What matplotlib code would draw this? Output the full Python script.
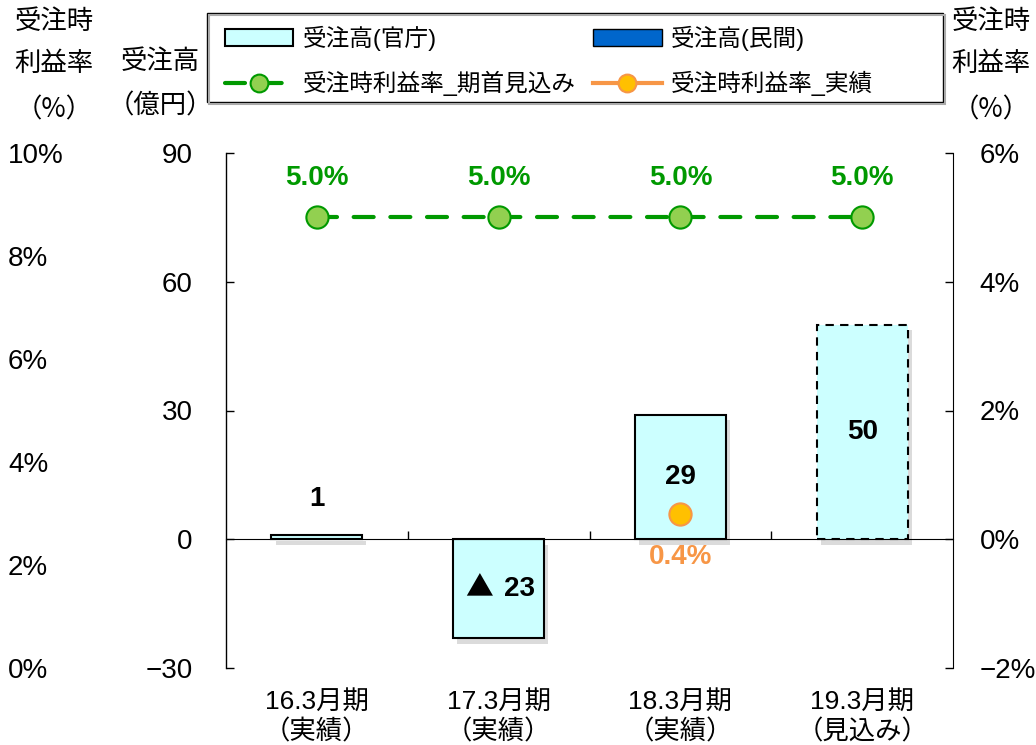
import numpy as np
import matplotlib
matplotlib.use('Agg')
import matplotlib.pyplot as plt
import matplotlib.patheffects as pe
from matplotlib.patches import Patch, Rectangle

plt.rcParams['font.family'] = ['Liberation Sans', 'Noto Sans CJK JP', 'DejaVu Sans']

# data
categories = ['16.3月期\n（実績）', '17.3月期\n（実績）', '18.3月期\n（実績）', '19.3月期\n（見込み）']
juchu_kancho = [1, -23, 29, 50]          # 受注高(官庁) 億円
is_forecast = [False, False, False, True]
rieki_plan = [5.0, 5.0, 5.0, 5.0]        # 受注時利益率_期首見込み %
rieki_actual = [np.nan, np.nan, 0.4, np.nan]  # 受注時利益率_実績 %
left_ticks = [-30, 0, 30, 60, 90]
right_ticks = [-2, 0, 2, 4, 6]
far_left_ticks = [0, 2, 4, 6, 8, 10]

W, H = 1036, 745
fig = plt.figure(figsize=(W / 100, H / 100), dpi=100)
ax = fig.add_axes([226 / W, 1 - 668 / H, (953 - 226) / W, (668 - 153) / H])

x = np.arange(len(categories))
bars = ax.bar(x, juchu_kancho, width=0.5, color='#CCFFFF', edgecolor='black',
              linewidth=1.5, zorder=2)
for b, f in zip(bars, is_forecast):
    if f:
        b.set_linestyle((0, (4, 3)))
    b.set_path_effects([pe.SimplePatchShadow(offset=(3, -4), shadow_rgbFace='#999999', alpha=0.35),
                        pe.Normal()])

ax.set_xlim(-0.5, len(categories) - 0.5)
ax.set_ylim(-30, 90)
ax.spines['top'].set_visible(False)
ax.spines['right'].set_visible(False)
ax.spines['bottom'].set_position(('data', 0))
ax.spines['left'].set_linewidth(1)
ax.set_yticks(left_ticks, [str(t).replace('-', '\u2212') for t in left_ticks])
ax.tick_params(axis='y', direction='in', length=6, width=1, pad=24, labelsize=20)
ax.set_xticks(x[:-1] + 0.5)
ax.tick_params(axis='x', direction='in', length=6, width=1, labelbottom=False)

# category labels at the bottom
sec = ax.secondary_xaxis('bottom')
sec.set_xticks(x, categories)
sec.spines['bottom'].set_visible(False)
sec.tick_params(length=0, pad=16, labelsize=19)

# bar value labels
for xi, v in zip(x, juchu_kancho):
    if v < 0:
        ax.annotate('▲', (xi, v / 2), xytext=(-20, 0), textcoords='offset pixels',
                    ha='center', va='center', fontsize=20, family='Noto Sans CJK JP', zorder=5)
        ax.annotate(str(abs(v)), (xi, v / 2), xytext=(21, 0), textcoords='offset pixels',
                    ha='center', va='center', fontsize=20, fontweight='bold', zorder=5)
    elif abs(v) < 5:
        ax.annotate(str(v), (xi, v), xytext=(0, 36), textcoords='offset pixels',
                    ha='center', va='center', fontsize=20, fontweight='bold', zorder=5)
    else:
        ax.annotate(str(v), (xi, v / 2), ha='center', va='center',
                    fontsize=20, fontweight='bold', zorder=5)

# right axis: 受注時利益率
ax2 = ax.twinx()
ax2.set_ylim(-2, 6)
for s in ['top', 'bottom', 'left']:
    ax2.spines[s].set_visible(False)
ax2.set_yticks(right_ticks, [f'{t}%'.replace('-', '\u2212') for t in right_ticks])
ax2.tick_params(axis='y', direction='in', length=6, width=1, pad=19, labelsize=20)

line_plan, = ax2.plot(x, rieki_plan, color='#009900', lw=3, ls=(0, (4.8, 4)),
                      dash_capstyle='round', marker='o', ms=16, mfc='#92D050',
                      mec='#009900', mew=1.5, label='受注時利益率_期首見込み')
line_act, = ax2.plot(x, rieki_actual, color='#F79646', lw=3, marker='o', ms=16,
                     mfc='#FFC000', mec='#F79646', mew=1.5, label='受注時利益率_実績')

for xi, v in zip(x, rieki_plan):
    ax2.annotate(f'{v:.1f}%', (xi, v), xytext=(0, 39), textcoords='offset pixels',
                 ha='center', va='center', color='#009900', fontsize=20, fontweight='bold')
for xi, v in zip(x, rieki_actual):
    if not np.isnan(v):
        ax2.annotate(f'{v:.1f}%', (xi, v), xytext=(0, -43), textcoords='offset pixels',
                     ha='center', va='center', color='#F79646', fontsize=20, fontweight='bold')

# far left axis (0% - 10%)
ax3 = ax.twinx()
ax3.set_ylim(0, 10)
for s in ax3.spines.values():
    s.set_visible(False)
ax3.yaxis.tick_left()
ax3.set_yticks(far_left_ticks, [f'{t}%' for t in far_left_ticks])
ax3.tick_params(axis='y', length=0, pad=(226 - 8) * 0.72, labelsize=20)
plt.setp(ax3.get_yticklabels(), ha='left')

# legend (frame drawn separately so it spans the full width)
h_kancho = Patch(facecolor='#CCFFFF', edgecolor='black', lw=1.5, label='受注高(官庁)')
h_minkan = Patch(facecolor='#0066CC', edgecolor='black', lw=1, label='受注高(民間)')
leg = ax.legend(handles=[h_kancho, line_plan, h_minkan, line_act], ncol=2,
                loc='upper left', bbox_to_anchor=(214 / W, 1 - 15 / H),
                bbox_transform=fig.transFigure, borderaxespad=0, frameon=False,
                fontsize=17, handlelength=2.9, handletextpad=0.4,
                columnspacing=0.75, borderpad=0.45, labelspacing=0.85, markerscale=0.8)
fig.patches.append(Rectangle((209 / W, 1 - 104 / H), 736 / W, 89 / H,
                             transform=fig.transFigure, fill=False, ec='#aaaaaa', lw=1.5))
fig.patches.append(Rectangle((207 / W, 1 - 102 / H), 736 / W, 89 / H,
                             transform=fig.transFigure, fc='white', ec='black', lw=1, zorder=-1))

# axis titles
fig.text(160 / W, 1 - 62 / H, '受注高', ha='center', va='center', fontsize=19)
fig.text(160 / W, 1 - 106 / H, '（億円）', ha='center', va='center', fontsize=19)
for xc in [54, 991]:
    fig.text(xc / W, 1 - 22 / H, '受注時', ha='center', va='center', fontsize=19)
    fig.text(xc / W, 1 - 64 / H, '利益率', ha='center', va='center', fontsize=19)
    fig.text(xc / W, 1 - 110 / H, '（%）', ha='center', va='center', fontsize=19,
             family='Noto Sans CJK JP')

fig.canvas.draw()
for lbl in sec.get_xticklabels():
    lbl.set_linespacing(1.25)

fig.savefig('out.png', dpi=100)
